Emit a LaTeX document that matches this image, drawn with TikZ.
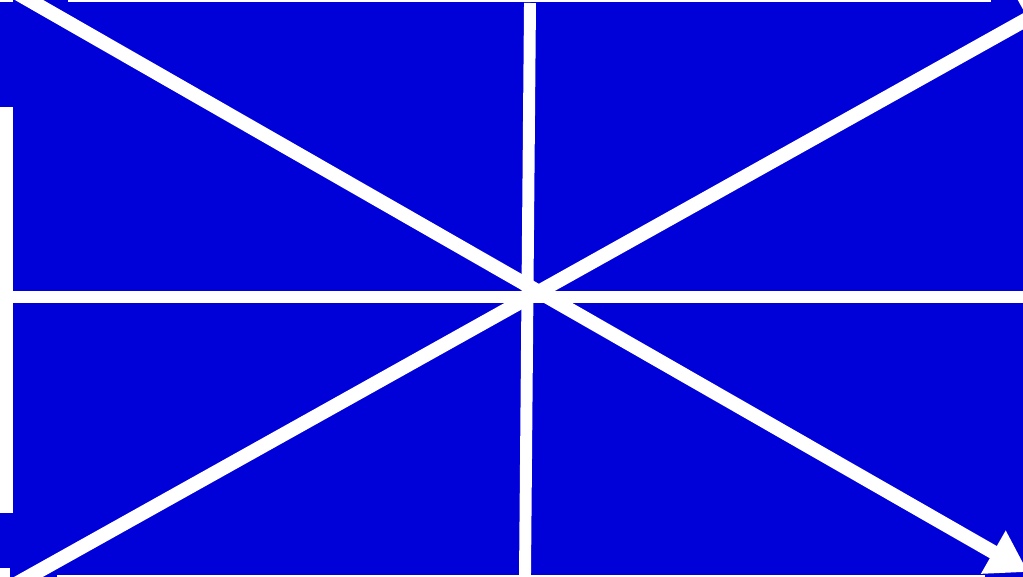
\documentclass[tikz,border=0pt]{standalone}
\usepackage{tikz}
\usetikzlibrary{arrows.meta}
\usepackage{xcolor}
\definecolor{flagblue}{HTML}{0000D9}

\begin{document}
\begin{tikzpicture}[x=0.02cm,y=-0.02cm]
    \useasboundingbox (0,0) rectangle (1023,577);
    \clip (0,0) rectangle (1023,577);
    \fill[flagblue] (0,0) rectangle (1023,577);
    \fill[white] (0,0) rectangle (13,2.5);
    \fill[white] (68,0) rectangle (991,2.5);
    \fill[white] (0,107) rectangle (13,513);
    \fill[white] (0,568) rectangle (10,577);
    \fill[white] (57,575) rectangle (985,577);
    \coordinate (tl) at (-12,-23.5);
    \coordinate (br) at (1028,572);
    \coordinate (bl) at (14,585);
    \coordinate (tr) at (1063,-1);
    \coordinate (top) at (530,3);
    \coordinate (bot) at (525,575);
    \coordinate (mleft) at (13,297);
    \coordinate (mright) at (1023,297);
    \draw[white,line width=6.8pt] (mleft) -- (mright);
    \draw[white,line width=6.8pt] (top) -- (bot);
    \draw[white,line width=8pt,-{Triangle[length=0.8cm,width=0.94cm]}] (tl) -- (br);
    \draw[white,line width=8pt,-{Triangle[length=0.8cm,width=0.94cm]}] (bl) -- (tr);
  \end{tikzpicture}
\end{document}
